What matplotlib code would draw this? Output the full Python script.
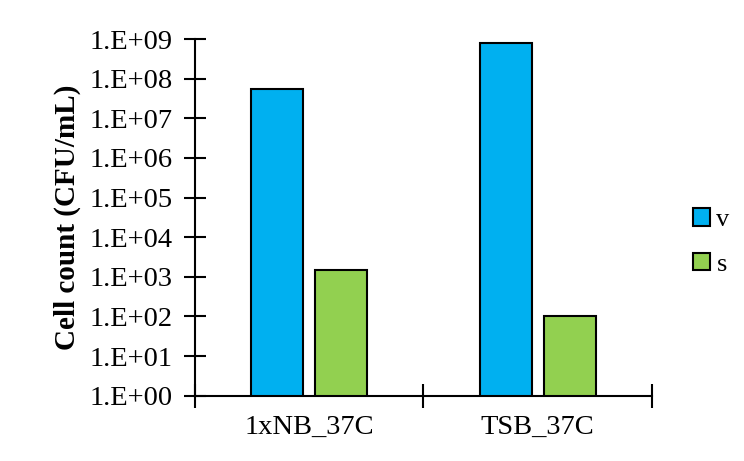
import matplotlib
matplotlib.use("Agg")
import matplotlib.pyplot as plt
import numpy as np
from matplotlib.ticker import FixedLocator, FuncFormatter, NullFormatter
from matplotlib.patches import Patch

categories = ["1xNB_37C", "TSB_37C"]
series_names = ["v", "s"]
v_values = [5.5e7, 8.0e8]
s_values = [1.5e3, 1.0e2]
colors = ["#00B0F0", "#92D050"]

plt.rcParams["font.family"] = ["Liberation Serif", "DejaVu Serif"]

fig = plt.figure(figsize=(7.44, 4.61), dpi=100)
ax = fig.add_axes([0.2621, 0.1417, 0.6142, 0.7737])

x = np.arange(len(categories))
width = 0.2276
offset = 0.141
for vals, off, col, name in zip([v_values, s_values], [-offset, offset], colors, series_names):
    ax.bar(x + off, vals, width=width, bottom=1, color=col, edgecolor="black",
           linewidth=1.5, label=name, zorder=3)

ax.set_yscale("log")
ax.set_ylim(1, 1e9)
ax.yaxis.set_major_locator(FixedLocator([10.0 ** k for k in range(10)]))
ax.yaxis.set_minor_locator(FixedLocator([]))
ax.yaxis.set_major_formatter(FuncFormatter(lambda v, p: "1.E+%02d" % int(round(np.log10(v)))))

ax.set_xlim(-0.5, len(categories) - 0.5)
ax.set_xticks(x)
ax.set_xticklabels(categories)
ax.set_xticks(np.arange(-0.5, len(categories), 1.0), minor=True)
ax.xaxis.set_minor_formatter(NullFormatter())
ax.tick_params(axis="x", which="major", length=0, pad=14, labelsize=20.5)
ax.tick_params(axis="x", which="minor", length=17, width=1.5, direction="inout")
ax.tick_params(axis="y", which="major", length=16, width=1.5, direction="inout",
               pad=8, labelsize=20.5)

for side in ["top", "right"]:
    ax.spines[side].set_visible(False)
for side in ["left", "bottom"]:
    ax.spines[side].set_linewidth(1.5)

ax.set_ylabel("Cell count (CFU/mL)", fontsize=21, fontweight="bold", labelpad=6)

handles = [Patch(facecolor=c, edgecolor="black", linewidth=1.5) for c in colors]
fig.legend(handles, series_names, loc="center left", bbox_to_anchor=(0.931, 0.475),
           frameon=False, fontsize=19, handlelength=0.65, handleheight=0.65,
           handletextpad=0.25, labelspacing=0.8, borderaxespad=0, borderpad=0)

fig.savefig("out.png", dpi=100)
